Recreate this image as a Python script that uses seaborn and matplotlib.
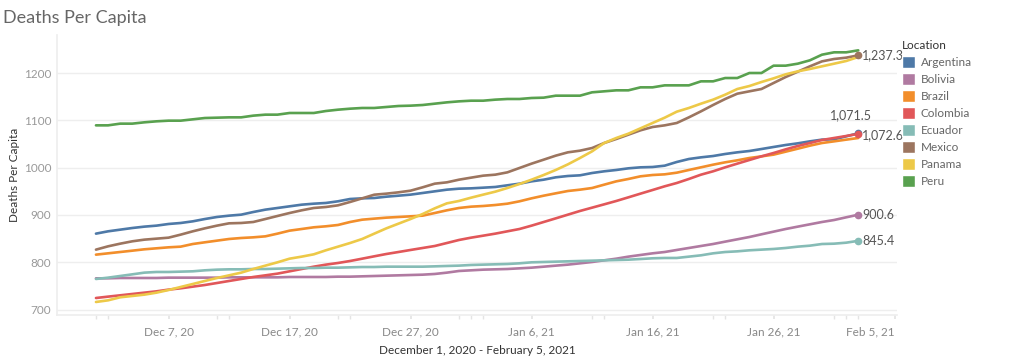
import matplotlib
matplotlib.use("Agg")
import matplotlib.pyplot as plt
import matplotlib.dates as mdates
from matplotlib.patches import Patch
import seaborn as sns
import pandas as pd
import numpy as np

# ---------------- data ----------------
start_date = "2020-12-01"
n_days = 64
locations = ["Argentina", "Bolivia", "Brazil", "Colombia", "Ecuador", "Mexico", "Panama", "Peru"]

argentina = [860.6, 865.5, 869.0, 872.5, 875.4, 877.5, 881.0, 883.1, 886.6, 891.5, 895.8, 898.6, 900.7, 906.3,
             911.3, 914.8, 918.3, 921.8, 923.9, 925.4, 928.9, 933.8, 935.2, 935.9, 938.7, 940.8, 943.0, 946.5,
             950.0, 953.5, 955.6, 956.3, 957.7, 959.2, 962.7, 966.2, 971.1, 974.6, 979.6, 982.4, 983.8, 988.7,
             992.3, 995.1, 998.6, 1000.7, 1001.4, 1004.2, 1012.0, 1018.3, 1021.8, 1024.6, 1028.9, 1032.4,
             1035.2, 1039.4, 1043.7, 1047.9, 1051.4, 1055.6, 1059.2, 1059.9, 1066.2, 1072.6]
bolivia = [766.2, 766.2, 766.9, 766.9, 766.9, 766.9, 767.6, 767.6, 767.6, 767.6, 767.6, 768.3, 768.3, 768.3,
           768.3, 768.3, 769.0, 769.0, 769.0, 769.0, 769.7, 769.7, 770.4, 771.1, 771.8, 772.5, 773.2, 773.9,
           775.4, 778.2, 781.7, 783.1, 784.5, 785.2, 785.9, 787.3, 788.7, 790.8, 793.0, 795.1, 797.9, 800.7,
           804.2, 807.7, 812.0, 815.5, 819.0, 821.8, 826.1, 830.3, 834.5, 838.7, 843.7, 848.6, 853.5, 859.2,
           864.8, 870.4, 875.4, 880.3, 885.2, 889.4, 895.1, 900.6]
brazil = [816.2, 819.0, 821.8, 824.6, 827.5, 829.6, 831.7, 833.1, 838.7, 842.3, 845.8, 849.3, 851.4, 852.8,
          854.9, 860.6, 866.9, 870.4, 874.0, 876.1, 878.9, 885.2, 890.1, 892.3, 894.4, 895.8, 897.2, 898.6,
          904.2, 909.9, 914.8, 917.6, 919.0, 921.1, 923.9, 928.9, 935.2, 940.8, 945.8, 950.7, 953.5, 957.0,
          964.1, 971.1, 976.1, 981.7, 984.5, 985.9, 989.4, 995.1, 1000.7, 1006.3, 1011.3, 1015.5, 1020.4,
          1023.9, 1027.5, 1033.8, 1040.1, 1046.5, 1052.1, 1055.6, 1059.2, 1062.7]
colombia = [724.6, 727.5, 730.3, 733.1, 735.9, 738.7, 742.3, 745.1, 748.6, 752.1, 756.3, 760.6, 764.8, 769.0,
            772.5, 776.1, 781.0, 785.9, 790.8, 795.1, 798.6, 802.8, 807.7, 812.7, 817.6, 821.8, 826.1, 830.3,
            834.5, 840.8, 847.2, 852.1, 856.3, 860.6, 865.5, 870.4, 877.5, 885.2, 892.9, 900.7, 908.5, 915.5,
            922.5, 929.6, 937.3, 945.1, 952.8, 960.6, 967.6, 976.1, 985.2, 992.3, 1000.7, 1008.5, 1016.2,
            1023.9, 1031.0, 1038.7, 1045.8, 1052.1, 1058.5, 1062.7, 1066.9, 1071.5]
ecuador = [764.8, 767.6, 771.1, 774.6, 778.2, 779.6, 779.6, 780.3, 781.0, 783.1, 784.5, 785.2, 785.2, 785.9,
           785.9, 786.6, 787.3, 788.0, 788.0, 788.7, 788.7, 789.4, 790.1, 790.1, 790.8, 790.8, 790.8, 790.8,
           791.5, 792.3, 793.0, 794.4, 795.1, 795.8, 796.5, 797.9, 800.0, 800.7, 801.4, 802.1, 802.8, 803.5,
           804.2, 804.9, 805.6, 807.0, 808.5, 809.2, 809.2, 812.0, 814.8, 819.0, 821.8, 823.2, 825.4, 826.8,
           828.2, 830.3, 833.1, 835.2, 838.7, 839.4, 841.5, 845.4]
mexico = [826.8, 833.8, 839.4, 844.4, 847.9, 850.0, 852.1, 858.5, 865.5, 871.8, 877.5, 882.4, 883.1, 885.2,
          891.5, 897.9, 904.2, 909.9, 914.8, 916.9, 920.4, 927.5, 935.2, 942.9, 945.1, 947.9, 951.4, 958.5,
          966.2, 969.0, 974.6, 978.9, 983.1, 985.2, 990.1, 999.3, 1008.5, 1016.9, 1025.4, 1032.4, 1035.9,
          1041.5, 1052.1, 1060.6, 1069.7, 1078.9, 1085.9, 1089.4, 1094.4, 1106.3, 1119.0, 1132.4, 1145.1,
          1156.3, 1161.3, 1166.2, 1178.9, 1191.5, 1202.8, 1214.1, 1224.6, 1229.6, 1232.4, 1237.3]
panama = [716.2, 719.7, 726.1, 728.9, 731.7, 735.9, 741.5, 747.9, 754.2, 760.6, 766.9, 772.5, 778.2, 785.9,
          793.0, 800.0, 807.7, 812.0, 816.9, 825.4, 833.1, 840.8, 849.3, 860.6, 871.8, 881.7, 891.5, 902.1,
          914.1, 924.6, 929.6, 936.6, 943.0, 949.3, 957.0, 965.5, 974.6, 984.5, 995.1, 1007.0, 1020.4, 1034.5,
          1052.1, 1062.7, 1071.8, 1083.1, 1094.4, 1105.6, 1118.3, 1126.1, 1135.2, 1143.7, 1154.2, 1166.2,
          1172.5, 1181.0, 1188.7, 1197.2, 1203.5, 1208.5, 1214.1, 1219.7, 1225.4, 1233.8]
peru = [1089.4, 1089.4, 1093.0, 1093.0, 1095.8, 1097.9, 1099.3, 1099.3, 1102.1, 1104.9, 1105.6, 1106.3, 1106.3,
        1109.9, 1112.0, 1112.0, 1115.5, 1115.5, 1115.5, 1119.7, 1122.5, 1124.6, 1126.1, 1126.1, 1128.2, 1130.3,
        1131.0, 1132.4, 1135.2, 1138.0, 1140.1, 1141.5, 1141.5, 1143.7, 1145.1, 1145.1, 1147.2, 1147.9, 1152.1,
        1152.1, 1152.1, 1159.2, 1161.3, 1163.4, 1163.4, 1169.7, 1169.7, 1173.9, 1173.9, 1173.9, 1182.4, 1182.4,
        1189.4, 1189.4, 1200.0, 1200.0, 1215.5, 1215.5, 1219.7, 1226.8, 1238.7, 1243.7, 1243.7, 1247.9]

series = {"Argentina": argentina, "Bolivia": bolivia, "Brazil": brazil, "Colombia": colombia,
          "Ecuador": ecuador, "Mexico": mexico, "Panama": panama, "Peru": peru}

colors = {"Argentina": "#4e79a7", "Bolivia": "#b07aa1", "Brazil": "#f28e2b", "Colombia": "#e15759",
          "Ecuador": "#86bcb6", "Mexico": "#9c755f", "Panama": "#edc948", "Peru": "#59a14f"}

# end labels: (location, text, offset)
end_labels = [("Mexico", "1,237.3", (3, 0), "left", "center"),
              ("Argentina", "1,072.6", (3, -1), "left", "center"),
              ("Colombia", "1,071.5", (-5, 9), "center", "bottom"),
              ("Bolivia", "900.6", (3, 0), "left", "center"),
              ("Ecuador", "845.4", (3, 0), "left", "center")]

xtick_dates = ["2020-12-07", "2020-12-17", "2020-12-27", "2021-01-06", "2021-01-16", "2021-01-26", "2021-02-05"]
xtick_labels = ["Dec 7, 20", "Dec 17, 20", "Dec 27, 20", "Jan 6, 21", "Jan 16, 21", "Jan 26, 21", "Feb 5, 21"]
yticks = [700, 800, 900, 1000, 1100, 1200]

# ---------------- build frame ----------------
dates = pd.date_range(start_date, periods=n_days, freq="D")
df = pd.concat([pd.DataFrame({"Date": dates, "Deaths Per Capita": series[loc], "Location": loc})
                for loc in locations], ignore_index=True)

sns.set_theme(style="white")
plt.rcParams["font.family"] = ["Lato", "DejaVu Sans"]

fig = plt.figure(figsize=(10.24, 3.64), dpi=100)
ax = fig.add_axes([57 / 1024, 1 - 315 / 364, (897 - 57) / 1024, (315 - 35) / 364])

sns.lineplot(data=df, x="Date", y="Deaths Per Capita", hue="Location", palette=colors,
             hue_order=locations, linewidth=1.9, ax=ax, legend=False)

for loc, txt, off, ha, va in end_labels:
    sub = df[df["Location"] == loc]
    xd, yv = sub["Date"].iloc[-1], sub["Deaths Per Capita"].iloc[-1]
    ax.plot([xd], [yv], marker="o", markersize=4.5, color=colors[loc], zorder=5)
    ax.annotate(txt, (xd, yv), xytext=off, textcoords="offset points", ha=ha, va=va,
                fontsize=9, color="#555555")

d0 = pd.Timestamp(start_date)
ax.set_xlim(d0 - pd.Timedelta(days=3.22), d0 + pd.Timedelta(days=66.2))
ax.set_ylim(688.7, 1280.3)

ax.set_yticks(yticks)
ax.set_yticklabels([str(v) for v in yticks], fontsize=8.5, color="#999999")
ax.set_xticks(pd.to_datetime(xtick_dates))
ax.set_xticklabels(xtick_labels, fontsize=8.5, color="#888888")
lbls = ax.get_xticklabels()
lbls[-1].set_horizontalalignment("right")
ax.xaxis.set_minor_locator(mdates.DayLocator(bymonthday=[2, 12, 22, 1, 11, 21, 31]))
ax.tick_params(axis="x", which="both", length=3, color="#e4e4e4", direction="out", pad=5, bottom=True)
ax.tick_params(axis="y", length=0, pad=4)

ax.grid(axis="y", color="#eeeeee", linewidth=1)
ax.grid(axis="x", visible=False)
for s in ["top", "right"]:
    ax.spines[s].set_visible(False)
ax.spines["left"].set_color("#eeeeee")
ax.spines["bottom"].set_color("#eeeeee")

ax.set_ylabel("Deaths Per Capita", fontsize=8.5, color="#333333")
ax.yaxis.set_label_coords((20 - 57) / 840, 0.5)
ax.set_xlabel("December 1, 2020 - February 5, 2021", fontsize=8.5, color="#333333", labelpad=6)

fig.text(3 / 1024, 1 - 18 / 364, "Deaths Per Capita", fontsize=13, color="#666666", va="center", ha="left")

handles = [Patch(facecolor=colors[l], edgecolor="white", label=l) for l in locations]
leg = fig.legend(handles=handles, loc="upper left", bbox_to_anchor=(902 / 1024, 1 - 40 / 364),
                 frameon=False, fontsize=8.5, title="Location", title_fontsize=8.5,
                 handlelength=1.1, handleheight=1.1, handletextpad=0.5, labelspacing=0.45,
                 borderaxespad=0, borderpad=0)
leg._legend_box.align = "left"
leg.get_title().set_color("#333333")
for t in leg.get_texts():
    t.set_color("#666666")

fig.savefig("out.png", dpi=100)
